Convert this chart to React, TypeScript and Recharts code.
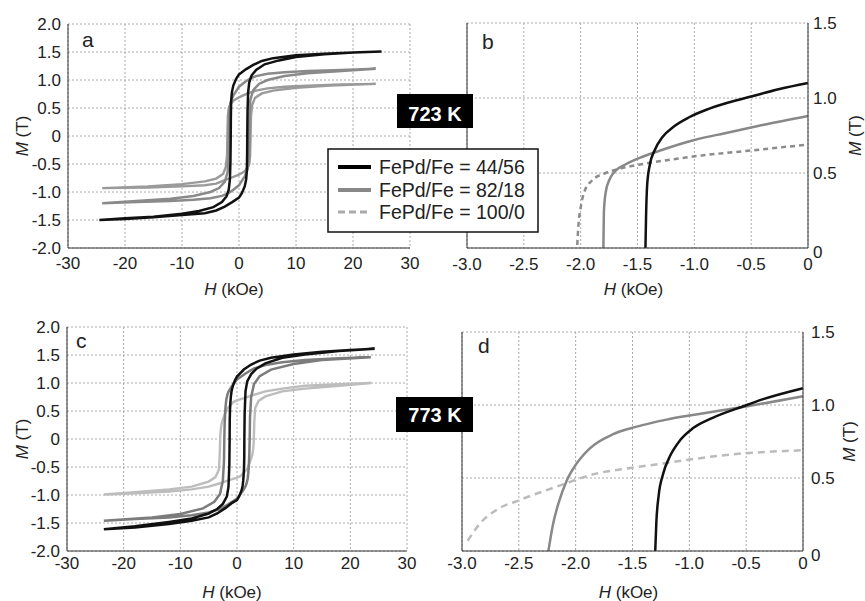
import React from "react";
import { LineChart, Line, XAxis, YAxis, CartesianGrid, ReferenceLine } from "recharts";

type Pt = [number, number];

const FONT = "'Liberation Sans', Arial, sans-serif";

// axis ticks
const loopTicksH = [-30, -20, -10, 0, 10, 20, 30];
const loopTicksM = [-2, -1.5, -1, -0.5, 0, 0.5, 1, 1.5, 2];
const zoomTicksH = [-3, -2.5, -2, -1.5, -1, -0.5, 0];
const zoomTicksM = [0, 0.5, 1, 1.5];

const seriesNames = ["FePd/Fe = 44/56", "FePd/Fe = 82/18", "FePd/Fe = 100/0"];
const temperatures = ["723 K", "773 K"];
const panelLetters = ["a", "b", "c", "d"];

// 723 K, full loops (upper branch from +H, then lower branch back)
const loop723_4456: Pt[] = [
  [25, 1.51], [20, 1.49], [15, 1.47], [10, 1.44], [6, 1.39], [4, 1.34], [2.5, 1.27], [1.2, 1.19], [0, 1.1],
  [-0.5, 1.02], [-1, 0.9], [-1.25, 0.78], [-1.38, 0.62], [-1.43, 0.3], [-1.45, 0], [-1.5, -0.45], [-1.6, -0.78],
  [-1.8, -0.96], [-2.2, -1.08], [-3, -1.18], [-4.5, -1.27], [-7, -1.34], [-10, -1.39], [-15, -1.44], [-20, -1.47],
  [-24.5, -1.5],
  [-20, -1.48], [-15, -1.45], [-10, -1.41], [-6, -1.38], [-4, -1.33], [-2.5, -1.26], [-1.2, -1.18], [0, -1.1],
  [0.5, -1.02], [1, -0.9], [1.25, -0.78], [1.38, -0.62], [1.43, -0.3], [1.45, 0], [1.5, 0.45], [1.6, 0.78],
  [1.8, 0.96], [2.2, 1.08], [3, 1.18], [4.5, 1.28], [7, 1.35], [10, 1.41], [15, 1.46], [20, 1.49], [25, 1.51],
];
const loop723_8218: Pt[] = [
  [24, 1.2], [18, 1.18], [12, 1.16], [8, 1.14], [5, 1.11], [3, 1.07], [2, 1.03], [1, 0.96], [0, 0.88],
  [-0.5, 0.8], [-1, 0.72], [-1.3, 0.65], [-1.5, 0.59], [-1.65, 0.52], [-1.75, 0.4], [-1.8, 0], [-1.85, -0.4],
  [-2, -0.65], [-2.5, -0.82], [-3.5, -0.93], [-5, -1.0], [-8, -1.07], [-12, -1.12], [-18, -1.16], [-24, -1.2],
  [-18, -1.18], [-12, -1.16], [-8, -1.14], [-5, -1.11], [-3, -1.07], [-2, -1.03], [-1, -0.96], [0, -0.88],
  [0.5, -0.8], [1, -0.72], [1.3, -0.65], [1.5, -0.59], [1.65, -0.52], [1.75, -0.4], [1.8, 0], [1.85, 0.4],
  [2, 0.65], [2.5, 0.82], [3.5, 0.93], [5, 1.0], [8, 1.07], [12, 1.12], [18, 1.16], [24, 1.2],
];
const loop723_1000: Pt[] = [
  [24, 0.93], [18, 0.92], [12, 0.9], [8, 0.88], [5, 0.85], [3, 0.81], [1.5, 0.76], [0, 0.69], [-0.5, 0.66],
  [-1, 0.63], [-1.5, 0.56], [-1.8, 0.5], [-1.95, 0.35], [-2.03, 0], [-2.1, -0.35], [-2.3, -0.55], [-2.8, -0.68],
  [-4, -0.76], [-6, -0.81], [-10, -0.86], [-16, -0.9], [-24, -0.93],
  [-16, -0.92], [-10, -0.9], [-6, -0.88], [-4, -0.85], [-2.8, -0.8], [-1.5, -0.75], [0, -0.69], [0.5, -0.66],
  [1, -0.63], [1.5, -0.56], [1.8, -0.5], [1.95, -0.35], [2.03, 0], [2.1, 0.35], [2.3, 0.55], [2.8, 0.68],
  [4, 0.76], [6, 0.81], [10, 0.86], [16, 0.9], [24, 0.93],
];

// 723 K, second quadrant close-up
const zoom723_4456: Pt[] = [
  [-1.43, 0], [-1.425, 0.2], [-1.415, 0.42], [-1.39, 0.56], [-1.35, 0.65], [-1.28, 0.74], [-1.18, 0.81],
  [-1.05, 0.87], [-0.9, 0.92], [-0.7, 0.97], [-0.5, 1.01], [-0.25, 1.06], [0, 1.1],
];
const zoom723_8218: Pt[] = [
  [-1.8, 0], [-1.795, 0.25], [-1.78, 0.37], [-1.75, 0.45], [-1.7, 0.51], [-1.6, 0.56], [-1.45, 0.61],
  [-1.3, 0.65], [-1.0, 0.72], [-0.7, 0.77], [-0.4, 0.82], [0, 0.88],
];
const zoom723_1000: Pt[] = [
  [-2.03, 0.02], [-2.02, 0.15], [-2.0, 0.27], [-1.97, 0.37], [-1.9, 0.45], [-1.78, 0.5], [-1.65, 0.53],
  [-1.45, 0.56], [-1.2, 0.59], [-0.9, 0.62], [-0.5, 0.65], [0, 0.69],
];

// 773 K, full loops
const loop773_4456: Pt[] = [
  [24.3, 1.61], [20, 1.59], [15, 1.56], [10, 1.51], [6, 1.45], [4, 1.4], [2.5, 1.33], [1.2, 1.24], [0, 1.115],
  [-0.35, 1.05], [-0.55, 1.0], [-0.8, 0.92], [-0.97, 0.85], [-1.08, 0.76], [-1.17, 0.65], [-1.23, 0.53],
  [-1.28, 0.35], [-1.3, 0], [-1.35, -0.45], [-1.5, -0.85], [-1.8, -1.03], [-2.5, -1.16], [-3.5, -1.25],
  [-5, -1.33], [-8, -1.42], [-12, -1.48], [-18, -1.56], [-23.5, -1.61],
  [-18, -1.58], [-12, -1.52], [-8, -1.46], [-5, -1.4], [-3.5, -1.33], [-2, -1.23], [-1, -1.15], [0, -1.09],
  [0.35, -1.03], [0.6, -0.97], [0.85, -0.9], [1.0, -0.83], [1.1, -0.74], [1.18, -0.63], [1.24, -0.5],
  [1.28, -0.33], [1.3, 0], [1.35, 0.45], [1.5, 0.85], [1.8, 1.03], [2.5, 1.16], [3.5, 1.26], [5, 1.35],
  [8, 1.45], [12, 1.51], [18, 1.57], [24.3, 1.61],
];
const loop773_8218: Pt[] = [
  [23.6, 1.46], [18, 1.44], [12, 1.41], [8, 1.37], [5, 1.32], [3, 1.26], [1.5, 1.17], [0, 1.065], [-0.5, 1.0],
  [-0.95, 0.94], [-1.47, 0.85], [-1.67, 0.8], [-1.88, 0.71], [-2, 0.6], [-2.08, 0.49], [-2.18, 0.26],
  [-2.24, 0], [-2.3, -0.4], [-2.5, -0.75], [-3, -0.98], [-4, -1.12], [-6, -1.24], [-10, -1.34], [-15, -1.4],
  [-23.5, -1.46],
  [-18, -1.43], [-12, -1.4], [-8, -1.36], [-5, -1.31], [-3, -1.25], [-1.5, -1.16], [0, -1.065], [0.5, -1.0],
  [0.95, -0.94], [1.47, -0.85], [1.67, -0.8], [1.88, -0.71], [2, -0.6], [2.08, -0.49], [2.18, -0.26],
  [2.24, 0], [2.3, 0.4], [2.5, 0.75], [3, 0.98], [4, 1.12], [6, 1.24], [10, 1.34], [15, 1.41], [23.6, 1.46],
];
const loop773_1000: Pt[] = [
  [23.7, 1.0], [18, 0.98], [12, 0.95], [8, 0.9], [5, 0.85], [3, 0.79], [1.5, 0.74], [0, 0.69], [-0.65, 0.66],
  [-1.23, 0.6], [-1.82, 0.53], [-2.17, 0.44], [-2.49, 0.35], [-2.7, 0.28], [-2.84, 0.19], [-2.95, 0.07],
  [-3.05, -0.3], [-3.2, -0.55], [-3.8, -0.68], [-5, -0.76], [-8, -0.85], [-12, -0.9], [-18, -0.95],
  [-23.5, -0.99],
  [-18, -0.97], [-12, -0.94], [-8, -0.9], [-5, -0.85], [-3, -0.79], [-1.5, -0.74], [0, -0.69], [0.65, -0.66],
  [1.23, -0.6], [1.82, -0.53], [2.17, -0.44], [2.49, -0.35], [2.7, -0.28], [2.84, -0.19], [2.95, -0.07],
  [3.05, 0.3], [3.2, 0.55], [3.8, 0.68], [5, 0.76], [8, 0.85], [12, 0.9], [18, 0.95], [23.7, 1.0],
];

// 773 K, second quadrant close-up
const zoom773_4456: Pt[] = [
  [-1.3, 0], [-1.29, 0.2], [-1.27, 0.38], [-1.23, 0.53], [-1.17, 0.65], [-1.08, 0.76], [-0.97, 0.84],
  [-0.8, 0.91], [-0.53, 0.99], [-0.35, 1.04], [0, 1.115],
];
const zoom773_8218: Pt[] = [
  [-2.24, 0], [-2.2, 0.18], [-2.15, 0.33], [-2.08, 0.48], [-2.0, 0.59], [-1.88, 0.7], [-1.67, 0.8],
  [-1.47, 0.85], [-1.2, 0.9], [-0.94, 0.935], [-0.5, 0.99], [0, 1.06],
];
const zoom773_1000: Pt[] = [
  [-2.95, 0.07], [-2.84, 0.19], [-2.7, 0.28], [-2.49, 0.35], [-2.17, 0.44], [-1.82, 0.53], [-1.5, 0.57],
  [-1.23, 0.6], [-0.65, 0.66], [0, 0.69],
];

const rows = (pts: Pt[]) => pts.map(([h, m]) => ({ h, m }));
const fmt1 = (v: number) => (v === 0 ? "0" : v.toFixed(1));

const tickStyle = { fontSize: 17, fill: "#222", fontFamily: FONT };
const axisLine = { stroke: "#333", strokeWidth: 1 };

const HTitle = ({ viewBox, shift = 0, drop = 47 }: any) => {
  if (!viewBox) return null;
  return (
    <text x={viewBox.x + viewBox.width / 2 + shift} y={viewBox.y + drop} textAnchor="middle"
      fontSize={17} fill="#222" fontFamily={FONT}>
      <tspan fontStyle="italic">H</tspan> (kOe)
    </text>
  );
};

const MTitle = ({ viewBox, base = 28 }: any) => {
  if (!viewBox) return null;
  const x = viewBox.x + base;
  const y = viewBox.y + viewBox.height / 2;
  return (
    <text x={x} y={y} transform={`rotate(-90 ${x} ${y})`} textAnchor="middle"
      fontSize={17} fill="#222" fontFamily={FONT}>
      <tspan fontStyle="italic">M</tspan> (T)
    </text>
  );
};

// right-hand M ticks; the "0" sits a little below the axis end, as in the original
const RightTick = ({ x, y, payload }: any) => (
  <text x={x} y={y + (payload.value === 0 ? 10 : 6)} textAnchor="start" {...tickStyle}>
    {fmt1(payload.value)}
  </text>
);

const LoopPanel = ({ black, gray, light, grayColor, lightColor, margin, yWidth, xHeight, xMargin, height }: any) => (
  <LineChart width={430} height={height} margin={margin}>
    <CartesianGrid stroke="#aaa" strokeDasharray="2 2" />
    <XAxis dataKey="h" type="number" domain={[-30, 30]} ticks={loopTicksH} interval={0}
      tick={tickStyle} tickLine={false} tickSize={0} tickMargin={xMargin} axisLine={axisLine}
      height={xHeight} label={<HTitle shift={-5} drop={47} />} />
    <YAxis type="number" domain={[-2, 2]} ticks={loopTicksM} interval={0} tickFormatter={fmt1}
      tick={tickStyle} tickLine={false} tickSize={0} tickMargin={7} axisLine={axisLine}
      width={yWidth} label={<MTitle base={28} />} />
    <Line data={rows(light)} dataKey="m" type="linear" stroke={lightColor} strokeWidth={2.4}
      dot={false} activeDot={false} isAnimationActive={false} />
    <Line data={rows(gray)} dataKey="m" type="linear" stroke={grayColor} strokeWidth={2.5}
      dot={false} activeDot={false} isAnimationActive={false} />
    <Line data={rows(black)} dataKey="m" type="linear" stroke="#111" strokeWidth={2.5}
      dot={false} activeDot={false} isAnimationActive={false} />
  </LineChart>
);

const ZoomPanel = ({ black, gray, light, lightColor, lightDash, margin, yWidth, yMargin, xHeight, xMargin, height, titleBase }: any) => (
  <LineChart width={435} height={height} margin={margin}>
    <CartesianGrid stroke="#aaa" strokeDasharray="2 2" />
    <XAxis dataKey="h" type="number" domain={[-3, 0]} ticks={zoomTicksH} interval={0} tickFormatter={fmt1}
      tick={tickStyle} tickLine={false} tickSize={0} tickMargin={xMargin} axisLine={axisLine}
      height={xHeight} label={<HTitle shift={-4} drop={47} />} />
    <YAxis orientation="right" type="number" domain={[0, 1.5]} ticks={zoomTicksM} interval={0}
      tick={<RightTick />} tickLine={false} tickSize={0} tickMargin={yMargin}
      axisLine={axisLine} width={yWidth} label={<MTitle base={titleBase} />} />
    <ReferenceLine x={-3} stroke="#333" strokeWidth={1} />
    <Line data={rows(light)} dataKey="m" type="monotone" stroke={lightColor} strokeWidth={2.5}
      strokeDasharray={lightDash} dot={false} activeDot={false} isAnimationActive={false} />
    <Line data={rows(gray)} dataKey="m" type="monotone" stroke="#888" strokeWidth={2.5}
      dot={false} activeDot={false} isAnimationActive={false} />
    <Line data={rows(black)} dataKey="m" type="monotone" stroke="#111" strokeWidth={2.5}
      dot={false} activeDot={false} isAnimationActive={false} />
  </LineChart>
);

const App = () => {
  const legendRows = [
    { name: seriesNames[0], color: "#000", width: 4, dash: undefined, y: 167 },
    { name: seriesNames[1], color: "#888", width: 4, dash: undefined, y: 190 },
    { name: seriesNames[2], color: "#aaa", width: 3, dash: "7 4", y: 212 },
  ];
  return (
    <div style={{ position: "absolute", left: 0, top: 0, width: 865, height: 601, background: "#fff", fontFamily: FONT }}>
      <div style={{ position: "absolute", left: 0, top: 0 }}>
        <LoopPanel black={loop723_4456} gray={loop723_8218} light={loop723_1000}
          grayColor="#8a8a8a" lightColor="#9a9a9a" height={300}
          margin={{ top: 24, right: 20, left: 0, bottom: 0 }} yWidth={68} xHeight={52} xMargin={9} />
      </div>
      <div style={{ position: "absolute", left: 430, top: 0 }}>
        <ZoomPanel black={zoom723_4456} gray={zoom723_8218} light={zoom723_1000}
          lightColor="#8c8c8c" lightDash="5 4" height={300}
          margin={{ top: 23, right: 0, left: 37, bottom: 0 }} yWidth={57} yMargin={5}
          xHeight={52} xMargin={10} titleBase={53} />
      </div>
      <div style={{ position: "absolute", left: 0, top: 300 }}>
        <LoopPanel black={loop773_4456} gray={loop773_8218} light={loop773_1000}
          grayColor="#7c7c7c" lightColor="#bdbdbd" height={301}
          margin={{ top: 27, right: 23, left: 0, bottom: 0 }} yWidth={67} xHeight={50} xMargin={6} />
      </div>
      <div style={{ position: "absolute", left: 430, top: 300 }}>
        <ZoomPanel black={zoom773_4456} gray={zoom773_8218} light={zoom773_1000}
          lightColor="#bbb" lightDash="7 5" height={301}
          margin={{ top: 32, right: 0, left: 32, bottom: 0 }} yWidth={62} yMargin={8}
          xHeight={50} xMargin={6} titleBase={52} />
      </div>
      <svg width={865} height={601} style={{ position: "absolute", left: 0, top: 0, zIndex: 5, pointerEvents: "none" }}
        fontFamily={FONT}>
        <text x={82} y={47} fontSize={21} fill="#222">{panelLetters[0]}</text>
        <text x={482} y={49} fontSize={21} fill="#222">{panelLetters[1]}</text>
        <text x={76} y={348} fontSize={21} fill="#222">{panelLetters[2]}</text>
        <text x={478} y={353} fontSize={21} fill="#222">{panelLetters[3]}</text>

        <rect x={397} y={94} width={76} height={34} fill="#000" />
        <text x={435} y={121} textAnchor="middle" fontSize={20} fontWeight="bold" fill="#fff">{temperatures[0]}</text>
        <rect x={396} y={397} width={77} height={35} fill="#000" />
        <text x={435} y={422} textAnchor="middle" fontSize={20} fontWeight="bold" fill="#fff">{temperatures[1]}</text>

        <rect x={328} y={149} width={210} height={83} fill="#fff" stroke="#111" strokeWidth={1.5} />
        {legendRows.map((r) => (
          <g key={r.name}>
            <line x1={338} x2={371} y1={r.y} y2={r.y} stroke={r.color} strokeWidth={r.width} strokeDasharray={r.dash} />
            <text x={379} y={r.y + 7} fontSize={19.5} fill="#222">{r.name}</text>
          </g>
        ))}
      </svg>
    </div>
  );
};

export default App;
